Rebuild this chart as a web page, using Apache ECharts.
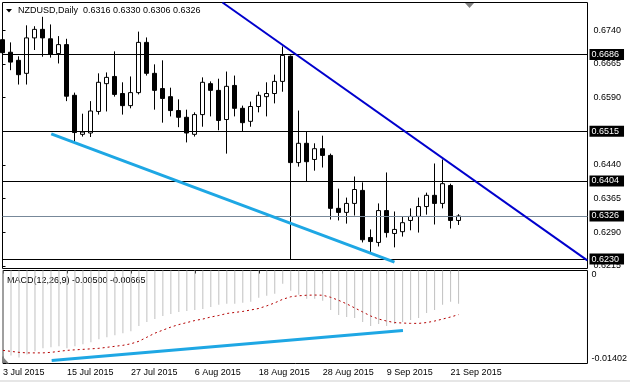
<!DOCTYPE html>
<html><head><meta charset="utf-8">
<script src="https://cdn.jsdelivr.net/npm/echarts@6/dist/echarts.min.js"></script>
<style>html,body{margin:0;padding:0;background:#fff}#c{width:630px;height:382px}</style>
</head><body><div id="c"></div>
<script>
const symbolName = 'NZDUSD';
const timeframe = 'Daily';
const opens  = [0.6719,0.6691,0.6673,0.6644,0.6723,0.6742,0.6721,0.6688,0.6708,0.6595,0.6508,0.6511,0.6559,0.6621,0.6637,0.6599,0.6572,0.6601,0.6713,0.6644,0.6610,0.6592,0.6561,0.6546,0.6508,0.6552,0.6621,0.6606,0.6541,0.6617,0.6566,0.6537,0.6570,0.6592,0.6599,0.6626,0.6682,0.6445,0.6488,0.6452,0.6476,0.6461,0.6343,0.6334,0.6354,0.6383,0.6278,0.6267,0.6338,0.6287,0.6291,0.6316,0.6325,0.6347,0.6372,0.6354,0.6394,0.6316];
const highs  = [0.6728,0.6713,0.6682,0.6751,0.6749,0.6770,0.6753,0.6727,0.6721,0.6601,0.6554,0.6582,0.6644,0.6646,0.6693,0.6624,0.6637,0.6737,0.6724,0.6664,0.6673,0.6612,0.6586,0.6563,0.6557,0.6635,0.6626,0.6632,0.6648,0.6639,0.6572,0.6581,0.6603,0.6624,0.6641,0.6704,0.6684,0.6561,0.6514,0.6488,0.6505,0.6465,0.6387,0.6367,0.6414,0.6401,0.6296,0.6354,0.6423,0.6336,0.6325,0.6343,0.6367,0.6378,0.6443,0.6452,0.6398,0.6330];
const lows   = [0.6682,0.6651,0.6619,0.6619,0.6696,0.6681,0.6679,0.6666,0.6582,0.6490,0.6503,0.6502,0.6552,0.6559,0.6592,0.6552,0.6566,0.6597,0.6639,0.6563,0.6534,0.6548,0.6524,0.6490,0.6503,0.6525,0.6548,0.6517,0.6465,0.6548,0.6514,0.6525,0.6557,0.6548,0.6577,0.6603,0.6229,0.6436,0.6403,0.6427,0.6434,0.6318,0.6316,0.6309,0.6327,0.6267,0.6244,0.6258,0.6278,0.6256,0.6280,0.6294,0.6289,0.6329,0.6307,0.6343,0.6298,0.6306];
const closes = [0.6690,0.6669,0.6641,0.6723,0.6742,0.6723,0.6686,0.6708,0.6593,0.6512,0.6513,0.6560,0.6624,0.6635,0.6597,0.6572,0.6601,0.6713,0.6644,0.6606,0.6588,0.6561,0.6546,0.6511,0.6552,0.6624,0.6606,0.6539,0.6615,0.6566,0.6534,0.6570,0.6595,0.6599,0.6626,0.6684,0.6445,0.6488,0.6447,0.6476,0.6461,0.6343,0.6334,0.6354,0.6385,0.6273,0.6269,0.6338,0.6289,0.6296,0.6311,0.6325,0.6347,0.6372,0.6354,0.6398,0.6316,0.6326];
const macdMain = [-0.01295,-0.01280,-0.01311,-0.01265,-0.01219,-0.01173,-0.01158,-0.01143,-0.01173,-0.01143,-0.01113,-0.01082,-0.01036,-0.01006,-0.00975,-0.00945,-0.00914,-0.00838,-0.00777,-0.00732,-0.00686,-0.00655,-0.00625,-0.00610,-0.00594,-0.00579,-0.00549,-0.00518,-0.00503,-0.00503,-0.00488,-0.00472,-0.00411,-0.00381,-0.00350,-0.00198,-0.00305,-0.00366,-0.00427,-0.00427,-0.00457,-0.00594,-0.00671,-0.00701,-0.00716,-0.00777,-0.00838,-0.00808,-0.00838,-0.00808,-0.00777,-0.00747,-0.00716,-0.00640,-0.00594,-0.00518,-0.00472,-0.00500];
const macdSignal = [-0.01204,-0.01219,-0.01234,-0.01242,-0.01242,-0.01242,-0.01234,-0.01219,-0.01204,-0.01196,-0.01189,-0.01181,-0.01173,-0.01158,-0.01143,-0.01128,-0.01105,-0.01067,-0.01006,-0.00945,-0.00899,-0.00853,-0.00815,-0.00785,-0.00754,-0.00732,-0.00701,-0.00678,-0.00648,-0.00632,-0.00617,-0.00595,-0.00572,-0.00533,-0.00488,-0.00434,-0.00396,-0.00381,-0.00373,-0.00370,-0.00373,-0.00404,-0.00450,-0.00503,-0.00564,-0.00625,-0.00686,-0.00732,-0.00762,-0.00785,-0.00792,-0.00797,-0.00797,-0.00785,-0.00762,-0.00732,-0.00701,-0.00665];
const priceTicks = [0.6215,0.6290,0.6365,0.6440,0.6515,0.6590,0.6665,0.6740];
const levelLines = [0.6686,0.6515,0.6404,0.6230];
const bidPrice = 0.6326;
const dateLabels = ['3 Jul 2015','15 Jul 2015','27 Jul 2015','6 Aug 2015','18 Aug 2015','28 Aug 2015','9 Sep 2015','21 Sep 2015'];
const dateLabelIdx = [0,8,16,24,32,40,48,56];
const macdTicks = [0,-0.01402];
const resistanceLine = [[27.5,0.6802],[73.1,0.6227]];
const supportLine = [[6.09,0.6509],[49.0,0.6223]];
const macdTrendLine = [[6.09,-0.01356],[50.04,-0.00904]];

const FONT = 'Liberation Sans, Arial, sans-serif';
const XMIN = 0, XMAX = 73.125;
const last = closes.length - 1;
const chart = echarts.init(document.getElementById('c'), null, {renderer:'canvas'});
const candles = opens.map((o,i)=>[i,o,closes[i],lows[i],highs[i]]);
const mlLabel = {show:true, position:'end', distance:2, formatter:p=>Number(p.value).toFixed(4), backgroundColor:'#000', color:'#fff', fontFamily:FONT, fontSize:9, lineHeight:11, padding:[0,5,0,2]};
const option = {
  animation:false,
  backgroundColor:'#fff',
  grid:[
    {left:2.5, top:2.5, width:585, height:266, show:true, borderColor:'#000', borderWidth:1, backgroundColor:'#fff'},
    {left:2.5, top:270.5, width:585, height:93, show:true, borderColor:'#000', borderWidth:1, backgroundColor:'#fff'}
  ],
  xAxis:[
    {type:'value', gridIndex:0, min:XMIN, max:XMAX, show:false},
    {type:'value', gridIndex:1, min:XMIN, max:XMAX, axisLine:{show:false}, splitLine:{show:false},
     axisTick:{show:true, customValues:dateLabelIdx, length:3, lineStyle:{color:'#000'}},
     axisLabel:{customValues:dateLabelIdx, align:'left', margin:5, color:'#000', fontFamily:FONT, fontSize:9,
       formatter:v=>{const k=dateLabelIdx.indexOf(Math.round(v)); return k>=0?dateLabels[k]:'';}}}
  ],
  yAxis:[
    {type:'value', gridIndex:0, position:'right', min:0.62089, max:0.68019, axisLine:{show:false}, splitLine:{show:false},
     axisTick:{show:true, customValues:priceTicks, length:3, lineStyle:{color:'#000'}},
     axisLabel:{customValues:priceTicks, margin:6, color:'#000', fontFamily:FONT, fontSize:9, formatter:v=>v.toFixed(4)}},
    {type:'value', gridIndex:1, position:'right', min:macdTicks[1], max:macdTicks[0], axisLine:{show:false}, splitLine:{show:false},
     axisTick:{show:true, customValues:macdTicks, length:3, lineStyle:{color:'#000'}},
     axisLabel:{customValues:macdTicks, margin:4, color:'#000', fontFamily:FONT, fontSize:9,
       verticalAlignMaxLabel:'bottom', verticalAlignMinLabel:'top',
       formatter:v=>v===0?'0':v.toFixed(5)}}
  ],
  series:[
    {type:'candlestick', xAxisIndex:0, yAxisIndex:0, data:candles, encode:{x:0,y:[1,2,3,4]}, barWidth:4,
     itemStyle:{color:'#fff', color0:'#000', borderColor:'#000', borderColor0:'#000', borderWidth:1},
     markLine:{silent:true, symbol:['none','none'], animation:false, precision:4,
       lineStyle:{type:'solid', width:1, color:'#000'}, label:mlLabel,
       data:levelLines.map(v=>({yAxis:v})).concat([{yAxis:bidPrice, lineStyle:{color:'#778899'}}])}},
    {type:'line', xAxisIndex:0, yAxisIndex:0, data:resistanceLine, showSymbol:false, clip:true, z:5,
     lineStyle:{color:'#0000cd', width:2}},
    {type:'line', xAxisIndex:0, yAxisIndex:0, data:supportLine, showSymbol:false, clip:true, z:5,
     lineStyle:{color:'#1ea7e4', width:3}},
    {type:'bar', xAxisIndex:1, yAxisIndex:1, data:macdMain.map((v,i)=>[i,v]), barWidth:1,
     itemStyle:{color:'#c0c0c0'}},
    {type:'line', xAxisIndex:1, yAxisIndex:1, data:macdSignal.map((v,i)=>[i,v]), showSymbol:false, z:4,
     lineStyle:{color:'#b40000', width:1, type:[2,3]}},
    {type:'line', xAxisIndex:1, yAxisIndex:1, data:macdTrendLine, showSymbol:false, z:5,
     lineStyle:{color:'#1ea7e4', width:3}}
  ],
  graphic:[
    {type:'polygon', shape:{points:[[6,9],[12,9],[9,12.5]]}, style:{fill:'#000'}},
    {type:'text', left:18, top:6, style:{text:symbolName+','+timeframe+'  '+[opens[last],highs[last],lows[last],closes[last]].map(v=>v.toFixed(4)).join(' '), fill:'#000', font:'9px '+FONT}},
    {type:'polygon', shape:{points:[[465,3],[474,3],[469.5,8]]}, style:{fill:'#808080'}},
    {type:'text', left:7, top:276, style:{text:'MACD(12,26,9) '+macdMain[last].toFixed(5)+' '+macdSignal[last].toFixed(5), fill:'#000', font:'9px '+FONT}},
    {type:'polygon', shape:{points:[[3,357],[3,363.5],[9,363.5]]}, style:{fill:'#808080'}},
    {type:'rect', shape:{x:0,y:380,width:630,height:2}, style:{fill:'#e6e6e6'}}
  ]
};
chart.setOption(option);
</script></body></html>
